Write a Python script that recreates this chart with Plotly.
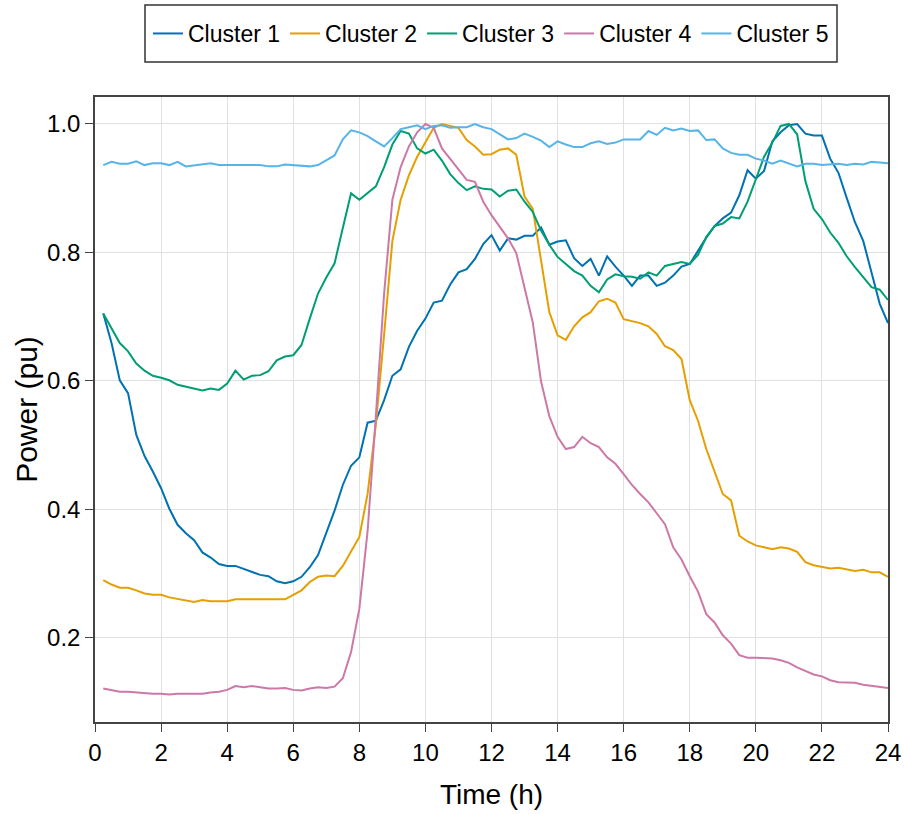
import plotly.graph_objects as go

# time steps (15-min resolution)
time_h = [0.25 * (i + 1) for i in range(96)]

cluster1 = [0.705, 0.659, 0.601, 0.581, 0.516, 0.483, 0.459, 0.433, 0.401, 0.376, 0.363, 0.352,
            0.333, 0.325, 0.315, 0.312, 0.312, 0.307, 0.303, 0.298, 0.296, 0.288, 0.285, 0.288,
            0.295, 0.310, 0.329, 0.363, 0.398, 0.438, 0.468, 0.481, 0.535, 0.538, 0.570, 0.608,
            0.618, 0.653, 0.678, 0.697, 0.722, 0.725, 0.750, 0.769, 0.774, 0.790, 0.813, 0.827,
            0.803, 0.822, 0.820, 0.826, 0.826, 0.839, 0.812, 0.817, 0.819, 0.791, 0.779, 0.790,
            0.764, 0.794, 0.778, 0.764, 0.748, 0.764, 0.764, 0.748, 0.753, 0.764, 0.778, 0.782,
            0.803, 0.823, 0.841, 0.853, 0.862, 0.889, 0.928, 0.915, 0.927, 0.973, 0.987, 0.998,
            1.000, 0.985, 0.982, 0.982, 0.946, 0.924, 0.885, 0.847, 0.818, 0.771, 0.720, 0.690]

cluster2 = [0.290, 0.283, 0.278, 0.278, 0.274, 0.269, 0.267, 0.267, 0.263, 0.261, 0.258, 0.256,
            0.259, 0.257, 0.257, 0.257, 0.260, 0.260, 0.260, 0.259, 0.259, 0.260, 0.260, 0.267,
            0.274, 0.287, 0.295, 0.297, 0.296, 0.312, 0.334, 0.357, 0.424, 0.532, 0.672, 0.818,
            0.882, 0.920, 0.949, 0.971, 0.994, 1.000, 0.997, 0.994, 0.975, 0.965, 0.952, 0.953,
            0.960, 0.962, 0.952, 0.887, 0.868, 0.787, 0.707, 0.671, 0.664, 0.685, 0.699, 0.707,
            0.724, 0.728, 0.722, 0.696, 0.693, 0.690, 0.685, 0.673, 0.654, 0.648, 0.634, 0.570,
            0.538, 0.494, 0.459, 0.424, 0.414, 0.359, 0.350, 0.344, 0.341, 0.338, 0.341, 0.339,
            0.334, 0.318, 0.313, 0.311, 0.308, 0.309, 0.307, 0.304, 0.306, 0.302, 0.302, 0.295]

cluster3 = [0.705, 0.682, 0.659, 0.646, 0.627, 0.616, 0.608, 0.605, 0.601, 0.594, 0.591, 0.589,
            0.585, 0.588, 0.586, 0.596, 0.616, 0.602, 0.608, 0.609, 0.615, 0.632, 0.638, 0.640,
            0.656, 0.697, 0.736, 0.761, 0.783, 0.838, 0.892, 0.882, 0.892, 0.903, 0.933, 0.968,
            0.989, 0.985, 0.962, 0.954, 0.960, 0.943, 0.922, 0.908, 0.897, 0.903, 0.899, 0.898,
            0.887, 0.896, 0.898, 0.879, 0.863, 0.834, 0.812, 0.793, 0.782, 0.771, 0.764, 0.748,
            0.738, 0.758, 0.766, 0.763, 0.762, 0.759, 0.769, 0.764, 0.779, 0.782, 0.785, 0.782,
            0.796, 0.824, 0.841, 0.845, 0.855, 0.853, 0.879, 0.914, 0.949, 0.971, 0.997, 1.000,
            0.984, 0.911, 0.868, 0.852, 0.831, 0.815, 0.794, 0.777, 0.762, 0.746, 0.742, 0.726]

cluster4 = [0.121, 0.118, 0.116, 0.116, 0.115, 0.113, 0.113, 0.113, 0.112, 0.113, 0.113, 0.113,
            0.113, 0.115, 0.116, 0.119, 0.125, 0.123, 0.125, 0.123, 0.121, 0.121, 0.122, 0.119,
            0.118, 0.121, 0.123, 0.122, 0.124, 0.137, 0.178, 0.245, 0.366, 0.545, 0.736, 0.882,
            0.933, 0.965, 0.987, 1.000, 0.994, 0.962, 0.946, 0.930, 0.913, 0.910, 0.879, 0.858,
            0.839, 0.822, 0.799, 0.745, 0.691, 0.599, 0.545, 0.513, 0.494, 0.497, 0.513, 0.503,
            0.497, 0.481, 0.471, 0.455, 0.438, 0.424, 0.411, 0.394, 0.377, 0.341, 0.322, 0.296,
            0.272, 0.237, 0.224, 0.204, 0.191, 0.173, 0.169, 0.169, 0.169, 0.168, 0.165, 0.161,
            0.154, 0.148, 0.143, 0.140, 0.134, 0.131, 0.130, 0.130, 0.127, 0.125, 0.124, 0.122]

cluster5 = [0.936, 0.941, 0.938, 0.938, 0.942, 0.936, 0.939, 0.939, 0.936, 0.941, 0.934, 0.936,
            0.938, 0.939, 0.936, 0.936, 0.936, 0.937, 0.937, 0.936, 0.934, 0.934, 0.937, 0.936,
            0.936, 0.934, 0.936, 0.943, 0.951, 0.976, 0.990, 0.987, 0.981, 0.973, 0.965, 0.978,
            0.992, 0.995, 0.998, 0.992, 0.997, 0.998, 0.994, 0.995, 0.995, 1.000, 0.995, 0.992,
            0.984, 0.976, 0.978, 0.985, 0.980, 0.974, 0.964, 0.973, 0.968, 0.964, 0.964, 0.970,
            0.973, 0.969, 0.971, 0.976, 0.976, 0.976, 0.989, 0.983, 0.994, 0.990, 0.993, 0.989,
            0.990, 0.975, 0.976, 0.962, 0.955, 0.952, 0.952, 0.946, 0.943, 0.938, 0.943, 0.938,
            0.934, 0.938, 0.938, 0.936, 0.937, 0.938, 0.936, 0.938, 0.937, 0.941, 0.940, 0.939]

series_names = ["Cluster 1", "Cluster 2", "Cluster 3", "Cluster 4", "Cluster 5"]
series_values = [cluster1, cluster2, cluster3, cluster4, cluster5]
colors = ["#0072B2", "#E69F00", "#009E73", "#CC79A7", "#56B4E9"]

x_ticks = list(range(0, 25, 2))
y_ticks = [0.2, 0.4, 0.6, 0.8, 1.0]
y_ticklabels = ["0.2", "0.4", "0.6", "0.8", "1.0"]

FONT = "Liberation Sans Narrow, Arial Narrow, Liberation Sans, Arial, sans-serif"

W, H = 904, 814
ML, MR, MT, MB = 95, 16, 97, 92
plot_w, plot_h = W - ML - MR, H - MT - MB

fig = go.Figure()
for name, vals, col in zip(series_names, series_values, colors):
    fig.add_trace(go.Scatter(x=time_h, y=vals, mode="lines", name=name,
                             line=dict(color=col, width=2)))

axis_common = dict(showline=True, mirror=True, linecolor="#444", linewidth=1.5,
                   ticks="outside", ticklen=8, tickwidth=1.2, tickcolor="#444",
                   showgrid=True, gridcolor="#e0e0e0", gridwidth=1, zeroline=False,
                   automargin=False,
                   tickfont=dict(size=24, color="black", family=FONT))

fig.update_xaxes(range=[0, 24], tickvals=x_ticks,
                 title=dict(text="Time (h)", font=dict(size=28, color="black", family=FONT), standoff=20),
                 **axis_common)
fig.update_yaxes(range=[0.069, 1.042], tickvals=y_ticks, ticktext=y_ticklabels,
                 title=dict(text="Power (pu)", font=dict(size=30, color="black", family=FONT), standoff=1),
                 **axis_common)

# legend frame (pixel box 145..837 x 5..62)
box_x0, box_x1, box_y0, box_y1 = 145, 837, 5, 62
fig.add_shape(type="rect", xref="paper", yref="paper",
              x0=(box_x0 - ML) / plot_w, x1=(box_x1 - ML) / plot_w,
              y0=(H - MB - box_y1) / plot_h, y1=(H - MB - box_y0) / plot_h,
              line=dict(color="#333", width=1.5), fillcolor="rgba(0,0,0,0)", layer="above")

fig.update_layout(
    width=W, height=H,
    margin=dict(l=ML, r=MR, t=MT, b=MB, autoexpand=False),
    plot_bgcolor="white", paper_bgcolor="white",
    font=dict(family=FONT, color="black"),
    legend=dict(orientation="h", x=(box_x0 + box_x1) / 2 / W, xanchor="center",
                y=1 - (box_y0 + box_y1) / 2 / H, yref="container", xref="container",
                yanchor="middle", borderwidth=0,
                font=dict(size=23, color="black", family=FONT), bgcolor="rgba(0,0,0,0)"),
)

fig.write_html("out.html", config={"displayModeBar": False},
               post_script="document.body.style.margin='0';")
